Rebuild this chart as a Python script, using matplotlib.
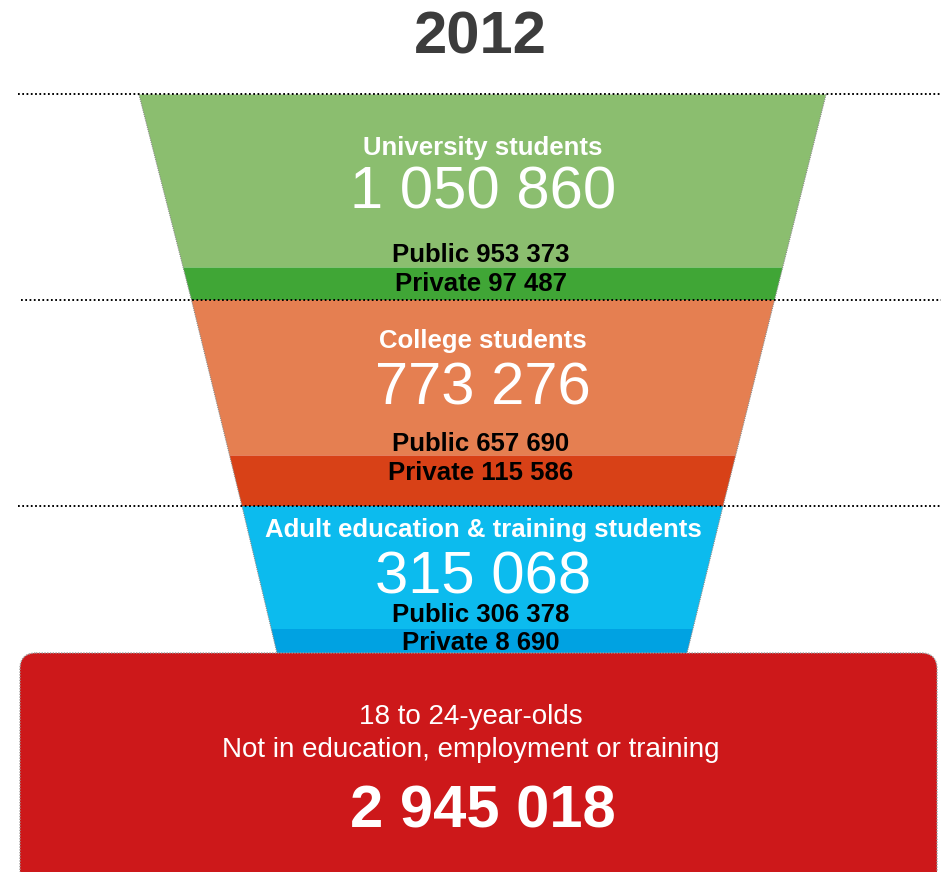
import numpy as np
import matplotlib
matplotlib.use("Agg")
import matplotlib.pyplot as plt
from matplotlib.patches import Polygon, FancyBboxPatch

plt.rcParams['font.family'] = ['Liberation Sans', 'DejaVu Sans']

year = "2012"
stages = ["University students", "College students",
          "Adult education & training students"]
totals = [1050860, 773276, 315068]
public = [953373, 657690, 306378]
private = [97487, 115586, 8690]
neet_label = ["18 to 24-year-olds", "Not in education, employment or training"]
neet_total = 2945018

light_colors = ["#8BBE6F", "#E57F51", "#0CBBEE"]
dark_colors = ["#40A636", "#D84117", "#00A2E2"]
red = "#CD181A"


def fmt(v):
    return f"{v:,}".replace(",", " ")


# funnel outline in pixel space (y grows downward)
edge_y = [94.5, 300, 506, 653]
left_x = [139, 191.5, 242, 277]
right_x = [826, 774.5, 723, 687]
# y where the private band starts inside each stage
split_y = [267.5, 455.5, 629]


def side(y):
    return np.interp(y, edge_y, left_x), np.interp(y, edge_y, right_x)


def band(y0, y1, color):
    l0, r0 = side(y0)
    l1, r1 = side(y1)
    return Polygon([(l0, y0), (r0, y0), (r1, y1), (l1, y1)], closed=True,
                   facecolor=color, edgecolor="none", zorder=2)


fig = plt.figure(figsize=(9.46, 8.72), dpi=100)
ax = fig.add_axes([0, 0, 1, 1])
ax.set_xlim(0, 946)
ax.set_ylim(872, 0)
ax.axis("off")

for i in range(3):
    ax.add_patch(band(edge_y[i], split_y[i], light_colors[i]))
    ax.add_patch(band(split_y[i], edge_y[i + 1], dark_colors[i]))

# thin dotted outline along the funnel sides
ax.plot(left_x, edge_y, color="#8a8a8a", lw=0.8, ls=(0, (1, 1)), zorder=3)
ax.plot(right_x, edge_y, color="#8a8a8a", lw=0.8, ls=(0, (1, 1)), zorder=3)

# dotted separators between stages
for y, x0 in zip(edge_y[:3], [18, 21, 18]):
    ax.plot([x0, 941], [y, y], color="black", lw=1.4, ls=(0, (0.9, 1.3)),
            zorder=4)

box = FancyBboxPatch((20, 653), 917, 260,
                     boxstyle="round,pad=0,rounding_size=16",
                     facecolor=red, edgecolor="#9a9a9a", lw=1.0,
                     ls=(0, (1, 1)), zorder=5)
ax.add_patch(box)

ax.text(480, 53, year, ha="center", va="baseline", fontsize=43,
        fontweight="bold", color="#3c3c3c")

cx = 483
title_y = [155, 348, 537]
total_y = [208, 404, 593]
pub_y = [262, 451, 622]
priv_y = [291, 480, 650]
for i in range(3):
    ax.text(cx, title_y[i], stages[i], ha="center", va="baseline",
            fontsize=18.5, fontweight="bold", color="white", zorder=6)
    ax.text(cx, total_y[i], fmt(totals[i]), ha="center", va="baseline",
            fontsize=43, color="white", zorder=6)
    ax.text(cx - 2, pub_y[i], f"Public {fmt(public[i])}", ha="center",
            va="baseline", fontsize=18.5, fontweight="bold", color="black",
            zorder=6)
    ax.text(cx - 2, priv_y[i], f"Private {fmt(private[i])}", ha="center",
            va="baseline", fontsize=18.5, fontweight="bold", color="black",
            zorder=6)

ax.text(471, 724, neet_label[0], ha="center", va="baseline", fontsize=20,
        color="white", zorder=6)
ax.text(471, 757, neet_label[1], ha="center", va="baseline", fontsize=20,
        color="white", zorder=6)
ax.text(cx, 827, fmt(neet_total), ha="center", va="baseline", fontsize=43,
        fontweight="bold", color="white", zorder=6)

fig.savefig("out.png", dpi=100)
